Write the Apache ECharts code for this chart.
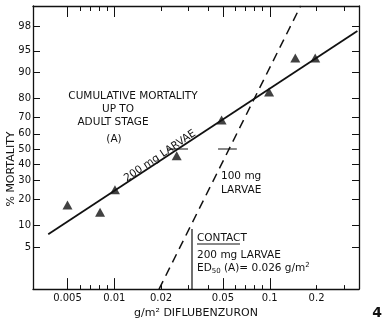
<!DOCTYPE html>
<html>
<head>
<meta charset="utf-8">
<script src="https://cdn.jsdelivr.net/npm/echarts@6.0.0/dist/echarts.min.js"></script>
<style>
html, body { margin: 0; padding: 0; background: #fff; }
#chart { width: 383px; height: 324px; }
</style>
</head>
<body>
<div id="chart"></div>
<script>
// observed points (g/m2, % mortality)
const doses = [0.005, 0.0081, 0.0101, 0.0252, 0.049, 0.099, 0.146, 0.196];
const mortality = [17.4, 14.5, 24.7, 45.5, 68.6, 83, 93.6, 93.6];
// fitted lines, end points
const line200Dose = [0.00376, 0.366];
const line200Pct = [7.7, 97.6];
const line100Dose = [0.0194, 0.158];
const line100Pct = [0.95, 99.17];
// ED50 marks
const ed50Dose200 = [0.0219, 0.0298];
const ed50Dose100 = [0.0465, 0.0614];
const ed50Pct = [50, 50];
// axes
const yTicks = [5, 10, 20, 30, 40, 50, 60, 70, 80, 90, 95, 98];
const xLabels = [0.005, 0.01, 0.02, 0.05, 0.1, 0.2];
const xMajorTicks = [0.005, 0.01, 0.05, 0.1];
const xMinorTicks = [0.006, 0.007, 0.008, 0.009, 0.02, 0.03, 0.04, 0.06, 0.07, 0.08, 0.09, 0.2, 0.3];

// inverse normal cdf (Acklam)
function probit(pct) {
    const p = pct / 100;
    const a = [-39.69683028665376, 220.9460984245205, -275.9285104469687, 138.357751867269, -30.66479806614716, 2.506628277459239];
    const b = [-54.47609879822406, 161.5858368580409, -155.6989798598866, 66.80131188771972, -13.28068155288572];
    const c = [-0.007784894002430293, -0.3223964580411365, -2.400758277161838, -2.549732539343734, 4.374664141464968, 2.938163982698783];
    const d = [0.007784695709041462, 0.3224671290700398, 2.445134137142996, 3.754408661907416];
    const pl = 0.02425;
    let q, r;
    if (p < pl) {
        q = Math.sqrt(-2 * Math.log(p));
        return (((((c[0]*q+c[1])*q+c[2])*q+c[3])*q+c[4])*q+c[5]) / ((((d[0]*q+d[1])*q+d[2])*q+d[3])*q+1);
    }
    if (p > 1 - pl) {
        q = Math.sqrt(-2 * Math.log(1 - p));
        return -(((((c[0]*q+c[1])*q+c[2])*q+c[3])*q+c[4])*q+c[5]) / ((((d[0]*q+d[1])*q+d[2])*q+d[3])*q+1);
    }
    q = p - 0.5;
    r = q * q;
    return (((((a[0]*r+a[1])*r+a[2])*r+a[3])*r+a[4])*r+a[5])*q / (((((b[0]*r+b[1])*r+b[2])*r+b[3])*r+b[4])*r+1);
}

function pairs(xs, ps) {
    return xs.map(function(x, i) { return [x, probit(ps[i])]; });
}

const ink = '#111';
const font = 'DejaVu Sans';
const txt = '10.5px "DejaVu Sans"';
const xMin = 0.003, xMax = 0.375;
const yMin = -2.345, yMax = 2.394;

const chart = echarts.init(document.getElementById('chart'));

function xAx(pos, ticks, len, showLine, labels) {
    return {
        type: 'log',
        logBase: 10,
        position: pos,
        min: xMin,
        max: xMax,
        axisLine: { show: showLine, onZero: false, lineStyle: { color: ink, width: 1.3 } },
        splitLine: { show: false },
        minorTick: { show: false },
        axisTick: { show: true, inside: true, length: len, customValues: ticks, lineStyle: { color: ink, width: 1 } },
        axisLabel: labels ? {
            show: true,
            customValues: labels,
            margin: 4,
            color: ink,
            fontFamily: font,
            fontSize: 10,
            formatter: function(v) { return String(+v.toPrecision(3)); }
        } : { show: false }
    };
}

const xAxes = [
    xAx('bottom', xMajorTicks, 11, true, xLabels),
    xAx('bottom', xMinorTicks, 4, false, null),
    xAx('top', xMajorTicks, 11, true, null),
    xAx('top', xMinorTicks, 5, false, null)
];
xAxes[0].name = 'g/m\u00b2 DIFLUBENZURON';
xAxes[0].nameLocation = 'middle';
xAxes[0].nameGap = 18;
xAxes[0].nameTextStyle = { color: ink, fontFamily: font, fontSize: 11 };

function yAx(pos, showLabels) {
    return {
        type: 'value',
        position: pos,
        min: yMin,
        max: yMax,
        splitLine: { show: false },
        axisLine: { show: true, onZero: false, lineStyle: { color: ink, width: 1.3 } },
        axisTick: { show: true, inside: true, length: 7, customValues: yTicks.map(probit), lineStyle: { color: ink, width: 1 } },
        axisLabel: showLabels ? {
            show: true,
            customValues: yTicks.map(probit),
            margin: 2,
            color: ink,
            fontFamily: font,
            fontSize: 10,
            formatter: function(v) {
                let best = yTicks[0];
                yTicks.forEach(function(t) { if (Math.abs(probit(t) - v) < Math.abs(probit(best) - v)) best = t; });
                return String(best);
            }
        } : { show: false }
    };
}

const option = {
    animation: false,
    backgroundColor: '#fff',
    grid: { left: 33, right: 24, top: 6, bottom: 27 },
    xAxis: xAxes,
    yAxis: [yAx('left', true), yAx('right', false)],
    series: [
        {
            type: 'line',
            data: pairs(line200Dose, line200Pct),
            showSymbol: false,
            lineStyle: { color: ink, width: 1.8 }
        },
        {
            type: 'line',
            data: pairs(line100Dose, line100Pct),
            showSymbol: false,
            lineStyle: { color: ink, width: 1.5, type: [9, 6] }
        },
        {
            type: 'line',
            data: pairs(ed50Dose200, ed50Pct),
            showSymbol: false,
            lineStyle: { color: ink, width: 1 }
        },
        {
            type: 'line',
            data: pairs(ed50Dose100, ed50Pct),
            showSymbol: false,
            lineStyle: { color: ink, width: 1 }
        },
        {
            type: 'scatter',
            data: pairs(doses, mortality),
            symbol: 'triangle',
            symbolSize: [10, 9],
            itemStyle: { color: ink }
        }
    ],
    graphic: [
        {
            type: 'text', x: 11, y: 169, rotation: Math.PI / 2,
            style: { text: '% MORTALITY', fill: ink, font: '11px "DejaVu Sans"', textAlign: 'center', textVerticalAlign: 'middle' }
        },
        {
            type: 'text', x: 133, y: 96,
            style: { text: 'CUMULATIVE MORTALITY', fill: ink, font: txt, textAlign: 'center', textVerticalAlign: 'middle' }
        },
        {
            type: 'text', x: 118, y: 109,
            style: { text: 'UP TO', fill: ink, font: txt, textAlign: 'center', textVerticalAlign: 'middle' }
        },
        {
            type: 'text', x: 113, y: 122,
            style: { text: 'ADULT STAGE', fill: ink, font: txt, textAlign: 'center', textVerticalAlign: 'middle' }
        },
        {
            type: 'text', x: 114, y: 139,
            style: { text: '(A)', fill: ink, font: txt, textAlign: 'center', textVerticalAlign: 'middle' }
        },
        {
            type: 'text', x: 160, y: 156, rotation: 34 * Math.PI / 180,
            style: { text: '200 mg LARVAE', fill: ink, font: txt, textAlign: 'center', textVerticalAlign: 'middle' }
        },
        {
            type: 'text', x: 221, y: 176,
            style: { text: '100 mg', fill: ink, font: txt, textAlign: 'left', textVerticalAlign: 'middle' }
        },
        {
            type: 'text', x: 221, y: 190,
            style: { text: 'LARVAE', fill: ink, font: txt, textAlign: 'left', textVerticalAlign: 'middle' }
        },
        {
            type: 'line', shape: { x1: 192, y1: 229, x2: 192, y2: 290 },
            style: { stroke: ink, lineWidth: 1.2 }
        },
        {
            type: 'text', x: 197, y: 238,
            style: { text: 'CONTACT', fill: ink, font: txt, textAlign: 'left', textVerticalAlign: 'middle' }
        },
        {
            type: 'line', shape: { x1: 197, y1: 244, x2: 240, y2: 244 },
            style: { stroke: ink, lineWidth: 1 }
        },
        {
            type: 'text', x: 197, y: 255,
            style: { text: '200 mg LARVAE', fill: ink, font: txt, textAlign: 'left', textVerticalAlign: 'middle' }
        },
        {
            type: 'text', x: 197, y: 268,
            style: {
                text: 'ED{sub|50} (A)= 0.026 g/m{sup|2}',
                fill: ink, font: txt, textAlign: 'left', textVerticalAlign: 'middle',
                rich: {
                    sub: { fontSize: 7, fontFamily: font, fill: ink, padding: [6, 0, 0, 0] },
                    sup: { fontSize: 7, fontFamily: font, fill: ink, padding: [0, 0, 6, 0] }
                }
            }
        },
        {
            type: 'text', x: 377, y: 313,
            style: { text: '4', fill: ink, font: 'bold 14px "DejaVu Sans"', textAlign: 'center', textVerticalAlign: 'middle' }
        }
    ]
};

chart.setOption(option);
</script>
</body>
</html>
